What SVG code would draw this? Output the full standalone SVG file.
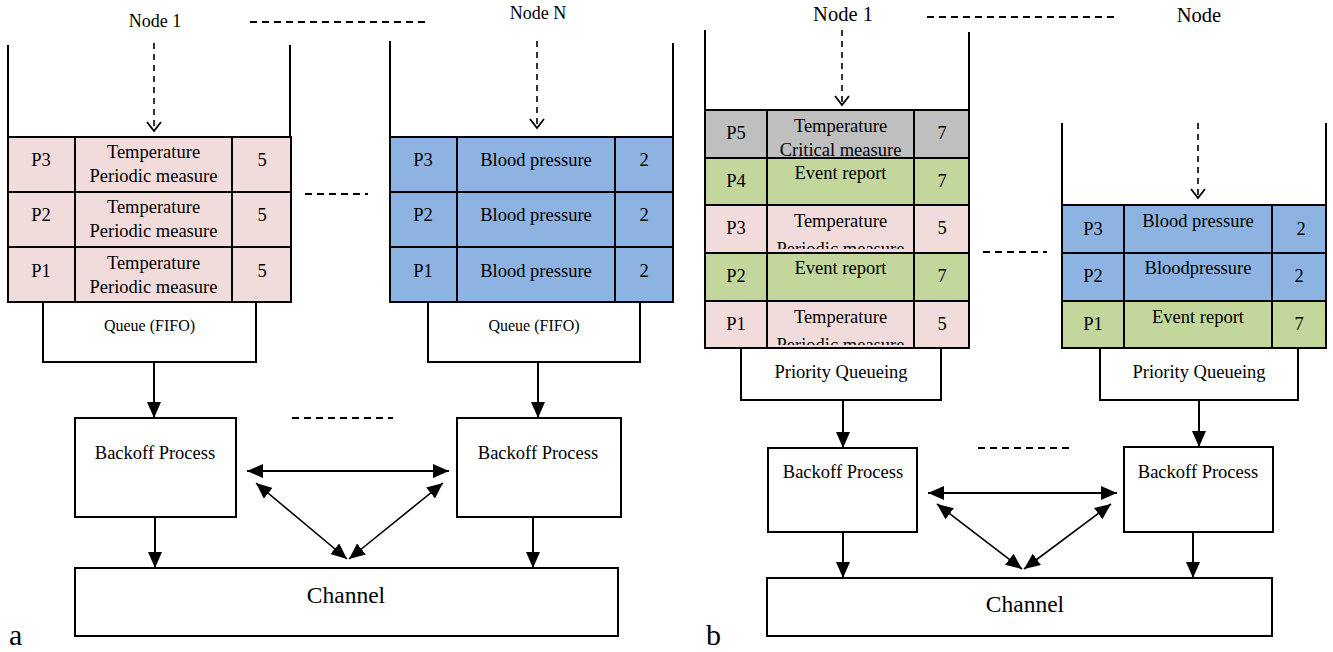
<svg xmlns="http://www.w3.org/2000/svg" width="1333" height="652" viewBox="0 0 1333 652" font-family="'Liberation Serif', 'DejaVu Serif', serif">
<style>
text{font-family:'Liberation Serif','Times New Roman',Times,'DejaVu Serif',serif;fill:#000;text-anchor:middle}
.t{font-size:18.5px}
.q{font-size:16px}
.big{font-size:23.5px}
.nd{font-size:18px}
.nd2{font-size:20.5px}
.lab{font-size:30px;text-anchor:start}
.wall{stroke:#000;stroke-width:2;fill:none}
.cell{stroke:#000;stroke-width:2}
.pink{fill:#F2DCDB}
.blue{fill:#8DB3E2}
.green{fill:#C3D69B}
.gray{fill:#BFBFBF}
.box{fill:#fff;stroke:#000;stroke-width:2}
.arr{stroke:#000;stroke-width:2;fill:none;marker-end:url(#ah)}
.dbl{stroke:#000;stroke-width:2;fill:none;marker-start:url(#ah);marker-end:url(#ah)}
.dbl2{stroke:#000;stroke-width:1.6;fill:none;marker-start:url(#ah);marker-end:url(#ah)}
.darr{stroke:#000;stroke-width:1.6;fill:none;stroke-dasharray:6 5;marker-end:url(#vh)}
.dash{stroke:#000;stroke-width:2;fill:none;stroke-dasharray:7 5}
</style>
<defs>
<marker id="ah" markerUnits="userSpaceOnUse" markerWidth="16" markerHeight="14" refX="16" refY="7" orient="auto-start-reverse" viewBox="0 0 16 14">
<path d="M0,0 L16,7 L0,14 z" fill="#000"/>
</marker>
<marker id="vh" markerUnits="userSpaceOnUse" markerWidth="16" markerHeight="16" refX="10" refY="8" orient="auto" viewBox="0 0 12 16">
<path d="M1,1 L10,8 L1,15" fill="none" stroke="#000" stroke-width="1.8" stroke-dasharray="none"/>
</marker>
<clipPath id="c5"><rect x="767" y="110" width="147" height="47"/></clipPath>
<clipPath id="c3"><rect x="767" y="205" width="147" height="44"/></clipPath>
<clipPath id="c1"><rect x="767" y="301" width="147" height="44"/></clipPath>
</defs>

<!-- ===== Panel a ===== -->
<g id="a-node1">
<text class="nd" x="155" y="27">Node 1</text>
<line class="wall" x1="8" y1="45" x2="8" y2="137"/>
<line class="wall" x1="290" y1="45" x2="290" y2="137"/>
<g id="a-node1-p3">
<rect class="cell pink" x="8" y="137" width="67" height="55"/>
<rect class="cell pink" x="75" y="137" width="157" height="55"/>
<rect class="cell pink" x="232" y="137" width="59" height="55"/>
<text class="t" x="41" y="166">P3</text>
<text class="t" x="153.5" y="158">Temperature</text>
<text class="t" x="153.5" y="182">Periodic measure</text>
<text class="t" x="262" y="166">5</text>
</g>
<g id="a-node1-p2">
<rect class="cell pink" x="8" y="192" width="67" height="55"/>
<rect class="cell pink" x="75" y="192" width="157" height="55"/>
<rect class="cell pink" x="232" y="192" width="59" height="55"/>
<text class="t" x="41" y="221">P2</text>
<text class="t" x="153.5" y="213">Temperature</text>
<text class="t" x="153.5" y="237">Periodic measure</text>
<text class="t" x="262" y="221">5</text>
</g>
<g id="a-node1-p1">
<rect class="cell pink" x="8" y="247" width="67" height="55"/>
<rect class="cell pink" x="75" y="247" width="157" height="55"/>
<rect class="cell pink" x="232" y="247" width="59" height="55"/>
<text class="t" x="41" y="277">P1</text>
<text class="t" x="153.5" y="269">Temperature</text>
<text class="t" x="153.5" y="293">Periodic measure</text>
<text class="t" x="262" y="277">5</text>
</g>
</g>

<g id="a-queue1">
<rect class="box" x="43" y="302" width="213" height="60"/>
<text class="q" x="149.5" y="331">Queue (FIFO)</text>
</g>

<g id="a-nodeN">
<text class="nd" x="538" y="19">Node N</text>
<line class="wall" x1="390" y1="41" x2="390" y2="137"/>
<line class="wall" x1="673" y1="43" x2="673" y2="137"/>
<g id="a-nodeN-p3">
<rect class="cell blue" x="390" y="137" width="67" height="55"/>
<rect class="cell blue" x="457" y="137" width="158" height="55"/>
<rect class="cell blue" x="615" y="137" width="58" height="55"/>
<text class="t" x="423" y="166">P3</text>
<text class="t" x="536" y="166">Blood pressure</text>
<text class="t" x="644" y="166">2</text>
</g>
<g id="a-nodeN-p2">
<rect class="cell blue" x="390" y="192" width="67" height="55"/>
<rect class="cell blue" x="457" y="192" width="158" height="55"/>
<rect class="cell blue" x="615" y="192" width="58" height="55"/>
<text class="t" x="423" y="221">P2</text>
<text class="t" x="536" y="221">Blood pressure</text>
<text class="t" x="644" y="221">2</text>
</g>
<g id="a-nodeN-p1">
<rect class="cell blue" x="390" y="247" width="67" height="55"/>
<rect class="cell blue" x="457" y="247" width="158" height="55"/>
<rect class="cell blue" x="615" y="247" width="58" height="55"/>
<text class="t" x="423" y="277">P1</text>
<text class="t" x="536" y="277">Blood pressure</text>
<text class="t" x="644" y="277">2</text>
</g>
</g>

<g id="a-queueN">
<rect class="box" x="428" y="302" width="212" height="60"/>
<text class="q" x="534" y="331">Queue (FIFO)</text>
</g>

<g id="a-backoff1">
<rect class="box" x="75" y="418" width="161" height="99"/>
<text class="t" x="155" y="459">Backoff Process</text>
</g>
<g id="a-backoffN">
<rect class="box" x="457" y="418" width="164" height="99"/>
<text class="t" x="538" y="459">Backoff Process</text>
</g>
<g id="a-channel">
<rect class="box" x="75" y="568" width="543" height="68"/>
<text class="big" x="346" y="603">Channel</text>
</g>
<text class="lab" x="9" y="645">a</text>

<!-- ===== Panel b ===== -->
<g id="b-node1">
<text class="nd2" x="843" y="21">Node 1</text>
<line class="wall" x1="705" y1="30" x2="705" y2="110"/>
<line class="wall" x1="969" y1="32" x2="969" y2="110"/>
<g id="b-node1-p5">
<rect class="cell gray" x="705" y="110" width="62" height="48"/>
<rect class="cell gray" x="767" y="110" width="147" height="48"/>
<rect class="cell gray" x="914" y="110" width="55" height="48"/>
<text class="t" x="736" y="139">P5</text>
<g clip-path="url(#c5)">
<text class="t" x="840.5" y="132">Temperature</text>
<text class="t" x="840.5" y="156">Critical measure</text>
</g>
<text class="t" x="942" y="139">7</text>
</g>
<g id="b-node1-p4">
<rect class="cell green" x="705" y="158" width="62" height="47"/>
<rect class="cell green" x="767" y="158" width="147" height="47"/>
<rect class="cell green" x="914" y="158" width="55" height="47"/>
<text class="t" x="736" y="187">P4</text>
<text class="t" x="840.5" y="179">Event report</text>
<text class="t" x="942" y="187">7</text>
</g>
<g id="b-node1-p3">
<rect class="cell pink" x="705" y="205" width="62" height="48"/>
<rect class="cell pink" x="767" y="205" width="147" height="48"/>
<rect class="cell pink" x="914" y="205" width="55" height="48"/>
<text class="t" x="736" y="234">P3</text>
<g clip-path="url(#c3)">
<text class="t" x="840.5" y="227">Temperature</text>
<text class="t" x="840.5" y="255">Periodic measure</text>
</g>
<text class="t" x="942" y="234">5</text>
</g>
<g id="b-node1-p2">
<rect class="cell green" x="705" y="253" width="62" height="48"/>
<rect class="cell green" x="767" y="253" width="147" height="48"/>
<rect class="cell green" x="914" y="253" width="55" height="48"/>
<text class="t" x="736" y="282">P2</text>
<text class="t" x="840.5" y="274">Event report</text>
<text class="t" x="942" y="282">7</text>
</g>
<g id="b-node1-p1">
<rect class="cell pink" x="705" y="301" width="62" height="47"/>
<rect class="cell pink" x="767" y="301" width="147" height="47"/>
<rect class="cell pink" x="914" y="301" width="55" height="47"/>
<text class="t" x="736" y="330">P1</text>
<g clip-path="url(#c1)">
<text class="t" x="840.5" y="323">Temperature</text>
<text class="t" x="840.5" y="351">Periodic measure</text>
</g>
<text class="t" x="942" y="330">5</text>
</g>
</g>

<g id="b-pq1">
<rect class="box" x="741" y="348" width="200" height="52"/>
<text class="t" x="841" y="378">Priority Queueing</text>
</g>

<g id="b-nodeN">
<text class="nd2" x="1199" y="22">Node</text>
<line class="wall" x1="1062" y1="123" x2="1062" y2="205"/>
<line class="wall" x1="1326" y1="123" x2="1326" y2="205"/>
<g id="b-nodeN-p3">
<rect class="cell blue" x="1062" y="205" width="62" height="48"/>
<rect class="cell blue" x="1124" y="205" width="148" height="48"/>
<rect class="cell blue" x="1272" y="205" width="54" height="48"/>
<text class="t" x="1093" y="235">P3</text>
<text class="t" x="1198" y="227">Blood pressure</text>
<text class="t" x="1301" y="235">2</text>
</g>
<g id="b-nodeN-p2">
<rect class="cell blue" x="1062" y="253" width="62" height="48"/>
<rect class="cell blue" x="1124" y="253" width="148" height="48"/>
<rect class="cell blue" x="1272" y="253" width="54" height="48"/>
<text class="t" x="1093" y="282">P2</text>
<text class="t" x="1198" y="274">Bloodpressure</text>
<text class="t" x="1299" y="282">2</text>
</g>
<g id="b-nodeN-p1">
<rect class="cell green" x="1062" y="301" width="62" height="47"/>
<rect class="cell green" x="1124" y="301" width="148" height="47"/>
<rect class="cell green" x="1272" y="301" width="54" height="47"/>
<text class="t" x="1093" y="330">P1</text>
<text class="t" x="1198" y="323">Event report</text>
<text class="t" x="1299" y="330">7</text>
</g>
</g>

<g id="b-pqN">
<rect class="box" x="1100" y="348" width="198" height="52"/>
<text class="t" x="1199" y="378">Priority Queueing</text>
</g>
<g id="b-backoff1">
<rect class="box" x="768" y="448" width="149" height="84"/>
<text class="t" x="843" y="478">Backoff Process</text>
</g>
<g id="b-backoffN">
<rect class="box" x="1124" y="447" width="149" height="85"/>
<text class="t" x="1198" y="478">Backoff Process</text>
</g>
<g id="b-channel">
<rect class="box" x="767" y="578" width="505" height="58"/>
<text class="big" x="1025" y="612">Channel</text>
</g>
<text class="lab" x="706" y="645">b</text>

<!-- ===== Connectors ===== -->
<g id="connectors">
<line class="darr" x1="154" y1="43" x2="154" y2="131"/>
<line class="darr" x1="537" y1="41" x2="537" y2="128"/>
<line class="dash" x1="250" y1="22" x2="427" y2="22"/>
<line class="dash" x1="305" y1="194" x2="368" y2="194"/>
<line class="dash" x1="292" y1="418" x2="393" y2="418"/>
<line class="arr" x1="154" y1="362" x2="154" y2="418"/>
<line class="arr" x1="538" y1="362" x2="538" y2="418"/>
<line class="arr" x1="155" y1="517" x2="155" y2="568"/>
<line class="arr" x1="533" y1="517" x2="533" y2="568"/>
<line class="dbl" x1="247" y1="471" x2="449" y2="471"/>
<line class="dbl2" x1="256" y1="483" x2="347" y2="559"/>
<line class="dbl2" x1="443" y1="483" x2="349" y2="559"/>

<line class="darr" x1="842" y1="30" x2="842" y2="105"/>
<line class="darr" x1="1198" y1="123" x2="1198" y2="198"/>
<line class="dash" x1="927" y1="17" x2="1117" y2="17"/>
<line class="dash" x1="983" y1="252" x2="1047" y2="252"/>
<line class="dash" x1="978" y1="448" x2="1070" y2="448"/>
<line class="arr" x1="843" y1="400" x2="843" y2="448"/>
<line class="arr" x1="1199" y1="400" x2="1199" y2="447"/>
<line class="arr" x1="843" y1="532" x2="843" y2="578"/>
<line class="arr" x1="1193" y1="532" x2="1193" y2="578"/>
<line class="dbl" x1="928" y1="493" x2="1117" y2="493"/>
<line class="dbl2" x1="937" y1="504" x2="1022" y2="569"/>
<line class="dbl2" x1="1111" y1="504" x2="1024" y2="569"/>
</g>
</svg>
